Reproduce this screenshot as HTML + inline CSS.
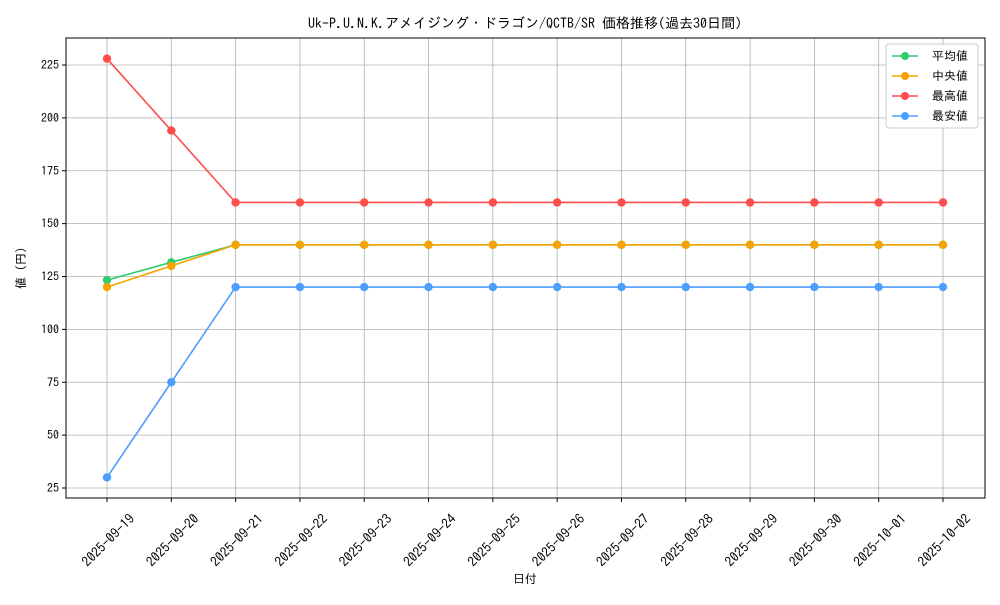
<!DOCTYPE html><html><head><meta charset="utf-8"><style>body{margin:0;background:#fff}svg{font-family:"IPAGothic","Liberation Sans",sans-serif}</style></head><body>
<svg width="1000" height="600" xmlns="http://www.w3.org/2000/svg">
<rect width="1000" height="600" fill="#fff"/>
<g id="grid" stroke="#b0b0b0" stroke-width="0.8"></g>
<rect x="66" y="38" width="919" height="460" fill="none" stroke="#000" stroke-width="1"/>
<g id="ticks"></g>
<g id="series"></g>
<text x="525" y="28" font-size="14" text-anchor="middle">Uk-P.U.N.K.アメイジング・ドラゴン/QCTB/SR 価格推移(過去30日間)</text>
<text x="525" y="583" font-size="12" text-anchor="middle">日付</text>
<text transform="translate(25,268) rotate(-90)" font-size="12" text-anchor="middle">値 (円)</text>
<g>
<rect x="886" y="44" width="92" height="84" fill="#fff" stroke="#ccc" rx="3"/>
<line x1="892" y1="56" x2="918" y2="56" stroke="#2ecc71" stroke-width="1.5"/><circle cx="905" cy="56" r="4" fill="#2ecc71"/><text x="932" y="60" font-size="12">平均値</text>
<line x1="892" y1="76" x2="918" y2="76" stroke="#f5a300" stroke-width="1.5"/><circle cx="905" cy="76" r="4" fill="#f5a300"/><text x="932" y="80" font-size="12">中央値</text>
<line x1="892" y1="96" x2="918" y2="96" stroke="#ff4d4d" stroke-width="1.5"/><circle cx="905" cy="96" r="4" fill="#ff4d4d"/><text x="932" y="100" font-size="12">最高値</text>
<line x1="892" y1="116" x2="918" y2="116" stroke="#4d9fff" stroke-width="1.5"/><circle cx="905" cy="116" r="4" fill="#4d9fff"/><text x="932" y="120" font-size="12">最安値</text>
</g>
</svg>
<script>
const ns="http://www.w3.org/2000/svg";
function el(p,t,a,txt){const e=document.createElementNS(ns,t);for(const k in a)e.setAttribute(k,a[k]);if(txt)e.textContent=txt;document.getElementById(p).appendChild(e);}
const X=i=>107+i*(943-107)/13, Y=v=>488-(v-25)*2.115;
const dates=["09-19","09-20","09-21","09-22","09-23","09-24","09-25","09-26","09-27","09-28","09-29","09-30","10-01","10-02"];
dates.forEach((d,i)=>{const x=X(i);el("grid","line",{x1:x,x2:x,y1:38,y2:498});
el("ticks","line",{x1:x,x2:x,y1:498,y2:502,stroke:"#000"});
el("ticks","text",{transform:`translate(${x+1},${540}) rotate(-45)`,"text-anchor":"middle","dominant-baseline":"central","font-size":"13.5"},"2025-"+d);});
for(let v=25;v<=225;v+=25){const y=Y(v);el("grid","line",{x1:66,x2:985,y1:y,y2:y});
el("ticks","line",{x1:62,x2:66,y1:y,y2:y,stroke:"#000"});
el("ticks","text",{x:59,y:y+4,"text-anchor":"end","font-size":"12"},String(v));}
const S=[["#ff4d4d",[228,194,...Array(12).fill(160)]],["#4d9fff",[30,75,...Array(12).fill(120)]],["#2ecc71",[123.3,131.7,...Array(12).fill(140)]],["#f5a300",[120,130,...Array(12).fill(140)]]];
S.forEach(([c,d])=>{el("series","polyline",{points:d.map((v,i)=>X(i)+","+Y(v)).join(" "),fill:"none",stroke:c,"stroke-width":1.6});
d.forEach((v,i)=>el("series","circle",{cx:X(i),cy:Y(v),r:4.2,fill:c}));});
</script>
</body></html>
